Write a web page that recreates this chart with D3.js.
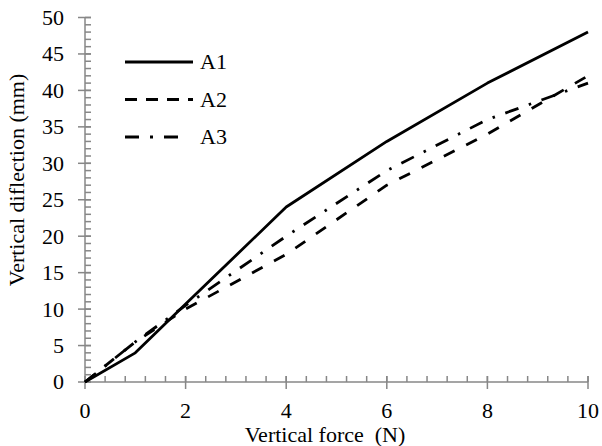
<!DOCTYPE html>
<html>
<head>
<meta charset="utf-8">
<script src="https://cdn.jsdelivr.net/npm/d3@7"></script>
<style>
  html, body { margin: 0; padding: 0; background: #fff; }
  svg { display: block; }
  text { font-family: "Liberation Serif", "Times New Roman", serif; fill: #000; }
</style>
</head>
<body>
<svg id="chart" width="602" height="446"></svg>
<script>
// Load (N) against deflection (mm) for three specimens
const force = [0, 1, 2, 4, 6, 8, 10];
const a1 = [0, 4, 10.7, 24, 33, 41, 48];
const a2 = [0, 5.5, 10, 17.5, 27, 34, 42];
const a3 = [0, 5.5, 10.5, 20, 29, 36, 41];
const seriesNames = ["A1", "A2", "A3"];
const xTicks = [0, 2, 4, 6, 8, 10];
const yTicks = [0, 5, 10, 15, 20, 25, 30, 35, 40, 45, 50];

const dashes = ["none", "12,13", "14,11,2.5,11"];
const legendDashes = ["none", "12,9", "14,11,3,11"];
const legendLen = [68, 68, 57];

const svg = d3.select("#chart");
const axisColor = "#878787";
const fontSize = 22;

const x = d3.scaleLinear().domain([0, 10]).range([85, 588]);
const y = d3.scaleLinear().domain([0, 50]).range([382, 17.5]);

// minor ticks: every 0.4 N on x, every 1 mm on y (inside the plot)
const xMinor = d3.range(0, 10.0001, 0.4);
const yMinor = d3.range(0, 50.0001, 1);

const axes = svg.append("g").attr("stroke", axisColor).attr("stroke-width", 1.5);
axes.selectAll(".xm").data(xMinor).join("line")
  .attr("x1", d => x(d)).attr("x2", d => x(d))
  .attr("y1", y(0)).attr("y2", y(0) - 6);
axes.selectAll(".ym").data(yMinor).join("line")
  .attr("x1", x(0)).attr("x2", x(0) + 6)
  .attr("y1", d => y(d)).attr("y2", d => y(d));
axes.selectAll(".xM").data(xTicks).join("line")
  .attr("x1", d => x(d)).attr("x2", d => x(d))
  .attr("y1", y(0) - 6).attr("y2", y(0) + 7);
axes.selectAll(".yM").data(yTicks).join("line")
  .attr("x1", x(0) - 7).attr("x2", x(0) + 6)
  .attr("y1", d => y(d)).attr("y2", d => y(d));
axes.append("line").attr("x1", x(0)).attr("x2", x(10)).attr("y1", y(0)).attr("y2", y(0));
axes.append("line").attr("x1", x(0)).attr("x2", x(0)).attr("y1", y(0)).attr("y2", y(50));

// tick labels
svg.append("g").selectAll("text").data(xTicks).join("text")
  .attr("x", d => x(d)).attr("y", y(0) + 36)
  .attr("text-anchor", "middle").attr("font-size", fontSize)
  .text(d => d);
svg.append("g").selectAll("text").data(yTicks).join("text")
  .attr("x", x(0) - 21).attr("y", d => y(d))
  .attr("dy", "0.34em")
  .attr("text-anchor", "end").attr("font-size", fontSize)
  .text(d => d);

// axis titles
svg.append("text")
  .attr("x", 325).attr("y", 442)
  .attr("text-anchor", "middle").attr("font-size", fontSize)
  .attr("xml:space", "preserve")
  .text("Vertical force  (N)");
svg.append("text")
  .attr("transform", "translate(24,180) rotate(-90)")
  .attr("text-anchor", "middle").attr("font-size", fontSize)
  .text("Vertical diflection (mm)");

// series lines
const line = d3.line().x((d, i) => x(force[i])).y(d => y(d));
const data = [a1, a2, a3];
svg.append("g").selectAll("path").data(data).join("path")
  .attr("d", d => line(d))
  .attr("fill", "none")
  .attr("stroke", "#000")
  .attr("stroke-width", 2.8)
  .attr("stroke-linejoin", "round")
  .attr("stroke-dasharray", (d, i) => dashes[i]);

// legend
const legendY = [62, 99.5, 137];
const lg = svg.append("g");
lg.selectAll("line").data(seriesNames).join("line")
  .attr("x1", 125).attr("x2", (d, i) => 125 + legendLen[i])
  .attr("y1", (d, i) => legendY[i]).attr("y2", (d, i) => legendY[i])
  .attr("stroke", "#000").attr("stroke-width", 2.8)
  .attr("stroke-dasharray", (d, i) => legendDashes[i]);
lg.selectAll("text").data(seriesNames).join("text")
  .attr("x", 200).attr("y", (d, i) => legendY[i])
  .attr("dy", "0.34em").attr("font-size", fontSize)
  .text(d => d);
</script>
</body>
</html>
